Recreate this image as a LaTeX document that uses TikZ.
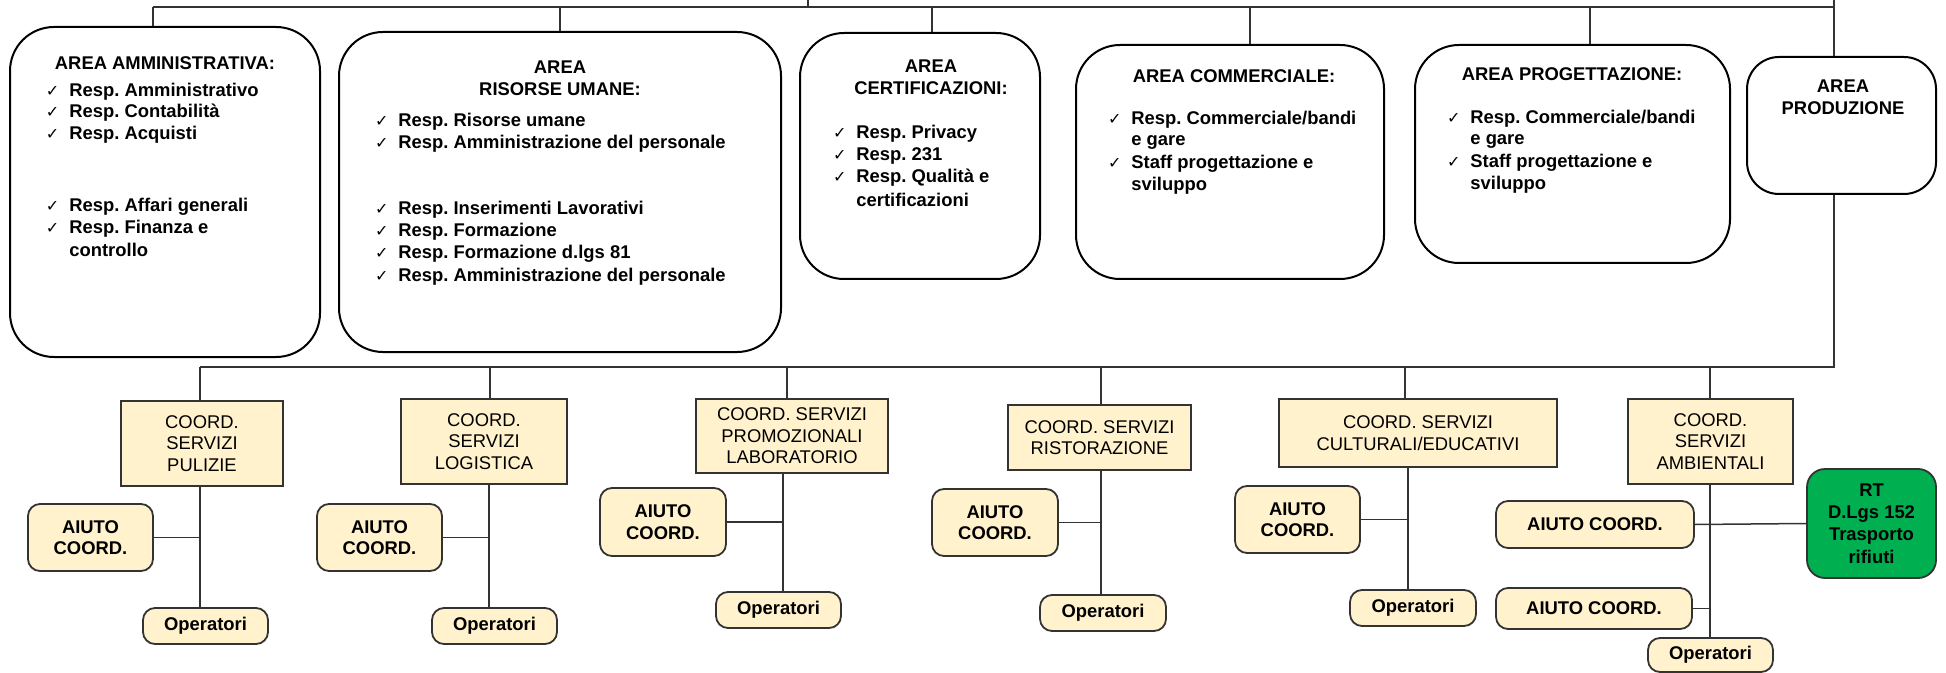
\documentclass[tikz,border=0pt]{standalone}
\usepackage{fontspec}
\setmainfont{Liberation Sans}
\newfontfamily\symfont{DejaVu Sans}
\frenchspacing

\definecolor{crema}{HTML}{FFF2CC}
\definecolor{verde}{HTML}{00B050}
\definecolor{bordo}{HTML}{333333}

\newcommand{\chk}{\llap{{\symfont\fontsize{8}{8}\selectfont ✓}\hspace{5pt}}}

\tikzset{
    misura/.style 2 args={minimum width=#1*0.5pt, minimum height=#2*0.5pt},
    area/.style={draw=black, line width=1pt, rounded corners=22pt, inner sep=0pt},
    titolo/.style={font=\fontsize{9.2}{10.8}\selectfont\bfseries, align=center, inner sep=0pt},
    voce/.style={font=\fontsize{9.2}{10.8}\selectfont\bfseries, anchor=west, inner sep=0pt},
    coord/.style={draw=bordo, fill=crema, line width=0.9pt, align=center, inner sep=0pt,
        font=\fontsize{9.2}{10.8}\selectfont},
    aiuto/.style={coord, rounded corners=6pt, font=\fontsize{9.2}{10.8}\selectfont\bfseries},
    rt/.style={aiuto, fill=verde, rounded corners=9pt, font=\fontsize{9.2}{11.2}\selectfont\bfseries},
    linea/.style={draw=bordo, line width=0.75pt},
}

\begin{document}
\begin{tikzpicture}[x=0.5pt, y=-0.5pt]
    \useasboundingbox (0,0) rectangle (1946,673);

    % aree
    \node[area, misura={310}{330}] (amm) at (165,192) {};
    \node[area, misura={442}{320}] (ris) at (560,192) {};
    \node[area, misura={240}{246}] (cert) at (920,156) {};
    \node[area, misura={308}{234}] (comm) at (1230,162) {};
    \node[area, misura={315}{218}] (prog) at (1572.5,154) {};
    \node[area, misura={189}{137}, rounded corners=16pt] (prod) at (1841.5,125.5) {};

    \node[titolo] (tamm) at (165,63) {AREA AMMINISTRATIVA:};
    \node[titolo] (tris) at (560,78) {AREA\\RISORSE UMANE:};
    \node[titolo] (tcert) at (931,77) {AREA\\CERTIFICAZIONI:};
    \node[titolo] (tcomm) at (1234,76) {AREA COMMERCIALE:};
    \node[titolo] (tprog) at (1572,74) {AREA PROGETTAZIONE:};
    \node[titolo] (tprod) at (1843,97) {AREA\\PRODUZIONE};

    \foreach \yy/\txt [count=\i] in {92/\chk Resp. Amministrativo, 113/\chk Resp. Contabilità,
        135/\chk Resp. Acquisti, 207/\chk Resp. Affari generali, 229/\chk Resp. Finanza e, 250/controllo}
        \node[voce] (amm\i) at (69,\yy) {\txt};
    \foreach \yy/\txt [count=\i] in {122/\chk Resp. Risorse umane, 144/\chk Resp. Amministrazione del personale,
        210/\chk Resp. Inserimenti Lavorativi, 232/\chk Resp. Formazione,
        254/\chk Resp. Formazione d.lgs 81, 277/\chk Resp. Amministrazione del personale}
        \node[voce] (ris\i) at (398,\yy) {\txt};
    \foreach \yy/\txt [count=\i] in {134/\chk Resp. Privacy, 156/\chk Resp. 231,
        178/\chk Resp. Qualità e, 200/certificazioni}
        \node[voce] (cert\i) at (856,\yy) {\txt};
    \foreach \yy/\txt [count=\i] in {120/{\chk Resp. Commerciale/bandi}, 142/e gare,
        164/\chk Staff progettazione e, 186/sviluppo}
        \node[voce] (comm\i) at (1131,\yy) {\txt};
    \foreach \yy/\txt [count=\i] in {119/{\chk Resp. Commerciale/bandi}, 141/e gare,
        163/\chk Staff progettazione e, 185/sviluppo}
        \node[voce] (prog\i) at (1470,\yy) {\txt};

    % coordinamenti
    \node[coord, misura={162}{85}] (c1) at (202,443.5) {COORD.\\SERVIZI\\PULIZIE};
    \node[coord, misura={166}{85}] (c2) at (484,441.5) {COORD.\\SERVIZI\\LOGISTICA};
    \node[coord, misura={192}{74}] (c3) at (792,436) {COORD. SERVIZI\\PROMOZIONALI\\LABORATORIO};
    \node[coord, misura={183}{65}] (c4) at (1099.5,437.5) {COORD. SERVIZI\\RISTORAZIONE};
    \node[coord, misura={278}{68}] (c5) at (1418,433) {COORD. SERVIZI\\CULTURALI/EDUCATIVI};
    \node[coord, misura={165}{85}] (c6) at (1710.5,441.5) {COORD.\\SERVIZI\\AMBIENTALI};

    \node[aiuto, misura={125}{67}] (a1) at (90.5,537.5) {AIUTO\\COORD.};
    \node[aiuto, misura={125}{67}] (a2) at (379.5,537.5) {AIUTO\\COORD.};
    \node[aiuto, misura={126}{68}] (a3) at (663,522) {AIUTO\\COORD.};
    \node[aiuto, misura={126}{67}] (a4) at (995,522.5) {AIUTO\\COORD.};
    \node[aiuto, misura={125}{67}] (a5) at (1297.5,519.5) {AIUTO\\COORD.};
    \node[aiuto, misura={198}{47}] (a6) at (1595,524.5) {AIUTO COORD.};
    \node[aiuto, misura={196}{41}] (a7) at (1594,608.5) {AIUTO COORD.};
    \node[rt, misura={129}{109}] (rt) at (1871.5,523.5) {RT\\D.Lgs 152\\Trasporto\\rifiuti};

    \node[aiuto, misura={125}{36}] (o1) at (205.5,626) {Operatori};
    \node[aiuto, misura={125}{36}] (o2) at (494.5,626) {Operatori};
    \node[aiuto, misura={125}{36}] (o3) at (778.5,610) {Operatori};
    \node[aiuto, misura={126}{36}] (o4) at (1103,613) {Operatori};
    \node[aiuto, misura={126}{36}] (o5) at (1413,608) {Operatori};
    \node[aiuto, misura={125}{34}] (o6) at (1710.5,655) {Operatori};

    % linee in alto
    \coordinate (su) at (808,0);
    \coordinate (t1) at (153,7);
    \coordinate (t2) at (560,7);
    \coordinate (t3) at (932,7);
    \coordinate (t4) at (1250,7);
    \coordinate (t5) at (1590,7);
    \coordinate (t6) at (1834,0);
    \draw[linea] (t1) -- (t1 -| t6);
    \draw[linea] (su) -- (su |- t1);
    \draw[linea] (t1) -- (t1 |- amm.north);
    \draw[linea] (t2) -- (t2 |- ris.north);
    \draw[linea] (t3) -- (t3 |- cert.north);
    \draw[linea] (t4) -- (t4 |- comm.north);
    \draw[linea] (t5) -- (t5 |- prog.north);
    \draw[linea] (t6) -- (t6 |- prod.north);

    % linee in basso
    \coordinate (g1) at (200,367);
    \coordinate (g2) at (490,367);
    \coordinate (g3) at (787,367);
    \coordinate (g4) at (1101,367);
    \coordinate (g5) at (1405,367);
    \coordinate (g6) at (1710,367);
    \draw[linea] (t6 |- prod.south) |- (g1);
    \foreach \i in {1,...,6}
        \draw[linea] (g\i) -- (g\i |- c\i.north);

    \coordinate (s1) at (200,0);
    \coordinate (s2) at (489,0);
    \coordinate (s3) at (783,0);
    \coordinate (s4) at (1101,0);
    \coordinate (s5) at (1408,0);
    \coordinate (s6) at (1710,0);
    \foreach \i in {1,...,6}
        \draw[linea] (s\i |- c\i.south) -- (s\i |- o\i.north);
    \foreach \i in {1,...,5}
        \draw[linea] (a\i.east) -- (a\i.east -| s\i);
    \draw[linea] (a6.east) -- (rt.west);
    \draw[linea] (a7.east) -- (a7.east -| s6);
\end{tikzpicture}
\end{document}
